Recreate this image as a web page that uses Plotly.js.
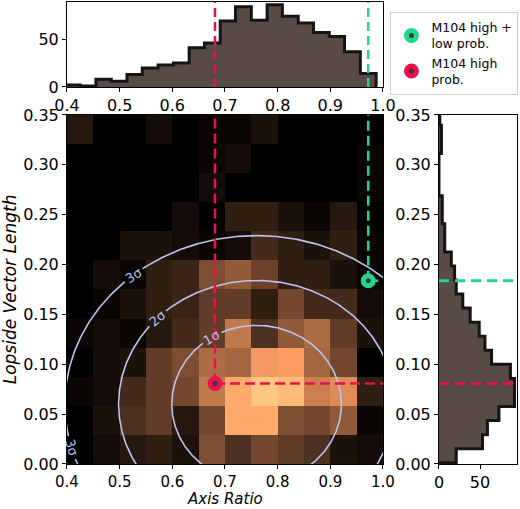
<!DOCTYPE html>
<html><head><meta charset="utf-8">
<script src="https://cdn.plot.ly/plotly-3.0.1.min.js"></script>
<style>html,body{margin:0;padding:0;background:#fff}#chart{width:520px;height:509px}</style>
</head><body><div id="chart"></div>
<script>
// ---- 2D histogram (axis ratio vs lopside vector length) ----
const xEdges = [0.40,0.45,0.50,0.55,0.60,0.65,0.70,0.75,0.80,0.85,0.90,0.95,1.00];
const yEdges = [0,0.02917,0.05833,0.0875,0.11667,0.14583,0.175,0.20417,0.23333,0.2625,0.29167,0.32083,0.35];
// rows from bottom (y bin 0) to top (y bin 11), columns from x=0.40 to 1.00
const row0  = [0,2,4,5,3,13,8,12,10,8,3,2];
const row1  = [0,3,8,10,4,12,28,28,13,12,15,1];
const row2  = [1,2,7,10,12,20,28,33,31,21,23,5];
const row3  = [0,2,3,10,13,18,17,25,26,17,12,0];
const row4  = [1,2,1,4,7,10,20,8,15,18,10,3];
const row5  = [0,1,3,5,6,10,10,5,12,7,7,2];
const row6  = [0,2,1,5,6,13,15,11,5,5,3,1];
const row7  = [0,0,3,3,2,1,2,7,5,3,5,1];
const row8  = [0,0,0,0,2,0,5,5,3,1,4,0];
const row9  = [0,0,0,0,0,2,0,0,0,0,0,1];
const row10 = [0,0,0,0,0,1,2,0,0,0,0,1];
const row11 = [4,0,0,2,0,1,1,3,0,0,0,0];

// ---- marginal histogram: axis ratio (top) ----
const topEdges  = [0.396,0.425,0.455,0.484,0.514,0.543,0.573,0.602,0.632,0.661,0.691,0.720,0.750,0.780,0.809,0.839,0.868,0.898,0.927,0.957,0.987];
const topCounts = [2,1,8,6,13,20,23,25,41,46,69,84,70,86,74,67,57,53,37,14];

// ---- marginal histogram: lopside vector length (right) ----
const rightEdges  = [0.0012,0.0153,0.0294,0.0435,0.0576,0.0717,0.0858,0.0999,0.1140,0.1281,0.1422,0.1563,0.1704,0.1845,0.1986,0.2127,0.2268,0.2409,0.2550,0.2691,0.2832,0.2973,0.3114,0.3255,0.3396,0.3537];
const rightCounts = [21,53,59,73,92,92,87,64,56,49,38,29,21,19,15,7,7,4,4,0,0,0,3,3,1];

// ---- M104 reference points ----
const refNames  = ['M104 high +<br>low prob.', 'M104 high<br>prob.'];
const refX      = [0.972, 0.681];
const refY      = [0.1838, 0.0808];
const refColors = ['#22d68a', '#e8114e'];

// ---- Gaussian contour ellipses ----
const contourLevels = ['1σ','2σ','3σ'];
const contourCenter = [0.76, 0.06];
const contourSemiX  = [0.161, 0.262, 0.364];
const contourSemiY  = [0.079, 0.124, 0.169];
const labelLevel = [0, 1, 2, 2];
const labelT     = [122, 136, 130, 195];   // parametric angle (deg) of label on ellipse
const labelGap   = [7.5, 5, 3.5, 3.8];     // half gap (deg)
const labelAngle = [-30, -40, -32, 73];

const xTicks = [0.4,0.5,0.6,0.7,0.8,0.9,1.0];
const xTickText = ['0.4','0.5','0.6','0.7','0.8','0.9','1.0'];
const yTicks = [0,0.05,0.10,0.15,0.20,0.25,0.30,0.35];
const yTickText = ['0.00','0.05','0.10','0.15','0.20','0.25','0.30','0.35'];
const countTicks = [0,50];

const HIST_FILL = '#584a45', HIST_EDGE = '#141414', CONTOUR = '#bcc2ea';
const copper = [[0,'rgb(0,0,0)'],[0.8,'rgb(255,159,101)'],[1,'rgb(255,199,127)']];

const traces = [];
traces.push({
  type:'heatmap', x:xEdges, y:yEdges,
  z:[row0,row1,row2,row3,row4,row5,row6,row7,row8,row9,row10,row11],
  colorscale:copper, zmin:0, zmax:33, showscale:false, zsmooth:false,
  xaxis:'x', yaxis:'y', hoverinfo:'skip'
});

// contour lines with gaps for labels
contourLevels.forEach((lvl, li) => {
  const xs = [], ys = [];
  for (let t = 0; t <= 360; t += 0.5) {
    let inGap = false;
    labelLevel.forEach((L, k) => {
      if (L === li) {
        let d = Math.abs(((t - labelT[k]) % 360 + 540) % 360 - 180);
        if (d < labelGap[k]) inGap = true;
      }
    });
    if (inGap) { xs.push(null); ys.push(null); continue; }
    const r = t * Math.PI / 180;
    xs.push(contourCenter[0] + contourSemiX[li] * Math.cos(r));
    ys.push(contourCenter[1] + contourSemiY[li] * Math.sin(r));
  }
  traces.push({type:'scatter', mode:'lines', x:xs, y:ys, xaxis:'x', yaxis:'y',
    line:{color:CONTOUR, width:1.6}, showlegend:false, hoverinfo:'skip'});
});

// top histogram (step filled)
(function(){
  const xs = [topEdges[0]], ys = [0];
  topCounts.forEach((c,i) => { xs.push(topEdges[i]); ys.push(c); });
  xs.push(topEdges[topEdges.length-1]); ys.push(topCounts[topCounts.length-1]);
  xs.push(topEdges[topEdges.length-1]); ys.push(0);
  traces.push({type:'scatter', mode:'lines', x:xs, y:ys, xaxis:'x2', yaxis:'y2',
    line:{shape:'hv', color:HIST_EDGE, width:3}, fill:'tozeroy', fillcolor:HIST_FILL,
    showlegend:false, hoverinfo:'skip'});
})();

// right histogram (horizontal step filled)
(function(){
  const xs = [0], ys = [rightEdges[0]];
  rightCounts.forEach((c,i) => { xs.push(c); ys.push(rightEdges[i]); });
  xs.push(rightCounts[rightCounts.length-1]); ys.push(rightEdges[rightEdges.length-1]);
  xs.push(0); ys.push(rightEdges[rightEdges.length-1]);
  traces.push({type:'scatter', mode:'lines', x:xs, y:ys, xaxis:'x3', yaxis:'y3',
    line:{shape:'vh', color:HIST_EDGE, width:3}, fill:'tozerox', fillcolor:HIST_FILL,
    showlegend:false, hoverinfo:'skip'});
})();

// dashed reference lines
refX.forEach((rx, i) => {
  const dash = {color:refColors[i], width:2.5, dash:'10px,5px'};
  traces.push({type:'scatter', mode:'lines', x:[rx, rx], y:[refY[i], 0.35], xaxis:'x', yaxis:'y', line:dash, showlegend:false, hoverinfo:'skip'});
  traces.push({type:'scatter', mode:'lines', x:[rx, 1.0], y:[refY[i], refY[i]], xaxis:'x', yaxis:'y', line:dash, showlegend:false, hoverinfo:'skip'});
  traces.push({type:'scatter', mode:'lines', x:[rx, rx], y:[0, 89.5], xaxis:'x2', yaxis:'y2', line:{color:refColors[i], width:2.5, dash:'9px,5px'}, showlegend:false, hoverinfo:'skip'});
  traces.push({type:'scatter', mode:'lines', x:[0, 95], y:[refY[i], refY[i]], xaxis:'x3', yaxis:'y3', line:{color:refColors[i], width:3, dash:'10px,6px'}, showlegend:false, hoverinfo:'skip'});
});
// markers
refX.forEach((rx, i) => {
  traces.push({type:'scatter', mode:'markers', x:[rx], y:[refY[i]], xaxis:'x', yaxis:'y',
    name:refNames[i], cliponaxis:false,
    marker:{symbol:'circle', size:10, color:'#3a3a3a', line:{color:refColors[i], width:5}},
    hoverinfo:'skip'});
});

const annotations = labelLevel.map((li, k) => {
  const r = labelT[k] * Math.PI / 180;
  return {x: contourCenter[0] + contourSemiX[li]*Math.cos(r),
          y: contourCenter[1] + contourSemiY[li]*Math.sin(r),
          xref:'x', yref:'y', text: contourLevels[li], showarrow:false,
          textangle: labelAngle[k], xanchor:'center', yanchor:'middle',
          font:{family:'DejaVu Sans', size:13, color:CONTOUR}};
});
// x-axis title placed as annotation (axis titles are clamped inside zero margins)
annotations.push({xref:'paper', yref:'paper', x:(0.1288+0.7365)/2, y:0.0, xanchor:'center', yanchor:'bottom',
  borderpad:0,
  text:'<i>Axis Ratio</i>', showarrow:false, font:{family:'DejaVu Sans', size:15, color:'#000'}});

const axBase = {showgrid:false, zeroline:false, showline:true, mirror:true, linecolor:'#000', linewidth:1,
  ticks:'outside', ticklen:4, tickwidth:1, tickcolor:'#000', automargin:false,
  tickfont:{family:'DejaVu Sans', size:16, color:'#000'}};
const mainXDom = [0.1288, 0.7365], mainYDom = [0.0885, 0.7741];

const layout = {
  width:520, height:509, margin:{l:0, r:0, t:0, b:0, autoexpand:false},
  paper_bgcolor:'#fff', plot_bgcolor:'#fff',
  font:{family:'DejaVu Sans', color:'#000'},
  xaxis: Object.assign({}, axBase, {domain:mainXDom, anchor:'y', range:[0.4,1.0], tickvals:xTicks, ticktext:xTickText,
    tickfont:{family:'DejaVu Sans', size:15, color:'#000'}}),
  yaxis: Object.assign({}, axBase, {domain:mainYDom, anchor:'x', range:[0,0.35], tickvals:yTicks, ticktext:yTickText,
    title:{text:'<i>Lopside Vector Length</i>', font:{size:17, family:'DejaVu Sans'}, standoff:4}}),
  xaxis2: Object.assign({}, axBase, {domain:mainXDom, anchor:'y2', range:[0.4,1.0], tickvals:xTicks, ticktext:xTickText}),
  yaxis2: Object.assign({}, axBase, {domain:[0.8291, 0.997], anchor:'x2', range:[0,89.5], tickvals:countTicks}),
  xaxis3: Object.assign({}, axBase, {domain:[0.8442, 0.9942], anchor:'y3', range:[0,95], tickvals:countTicks}),
  yaxis3: Object.assign({}, axBase, {domain:mainYDom, anchor:'x3', range:[0,0.35], tickvals:yTicks, ticktext:yTickText}),
  legend:{x:0.997, y:0.977, xanchor:'right', yanchor:'top', bgcolor:'#fff', bordercolor:'#cccccc', borderwidth:1,
    font:{family:'DejaVu Sans', size:12.5, color:'#000'}, tracegroupgap:0, itemwidth:30},
  annotations: annotations,
  showlegend:true
};

Plotly.newPlot('chart', traces, layout, {staticPlot:true, displayModeBar:false});
</script>
</body></html>
